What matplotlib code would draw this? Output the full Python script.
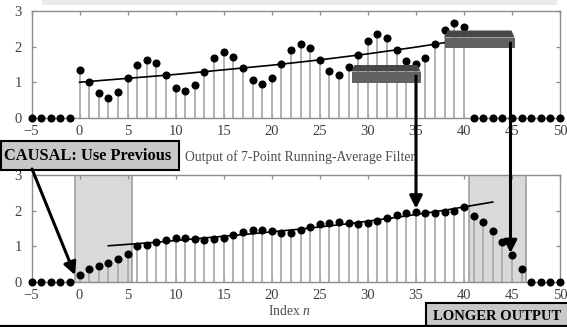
import matplotlib
matplotlib.use("Agg")
import matplotlib.pyplot as plt
from matplotlib.patches import Rectangle, Polygon, FancyArrowPatch
from matplotlib.lines import Line2D
from matplotlib.transforms import Affine2D

# ---------------- data ----------------
n_in = list(range(-5, 51))
x_vals = [0, 0, 0, 0, 0,
          1.34, 1.02, 0.69, 0.55, 0.73, 1.11, 1.48, 1.64, 1.53, 1.20,
          0.85, 0.74, 0.91, 1.30, 1.67, 1.84, 1.72, 1.39, 1.06, 0.96,
          1.13, 1.52, 1.90, 2.08, 1.96, 1.64, 1.32, 1.20, 1.42, 1.78,
          2.17, 2.35, 2.24, 1.92, 1.61, 1.52, 1.69, 2.09, 2.48, 2.67,
          2.57,
          0, 0, 0, 0, 0, 0, 0, 0, 0, 0]

n_out = list(range(-5, 51))
y_vals = [0, 0, 0, 0, 0,
          0.20, 0.35, 0.44, 0.52, 0.63, 0.78, 0.99, 1.04, 1.11, 1.18,
          1.24, 1.24, 1.19, 1.18, 1.19, 1.23, 1.31, 1.39, 1.44, 1.45,
          1.42, 1.37, 1.38, 1.45, 1.53, 1.61, 1.66, 1.67, 1.65, 1.62,
          1.65, 1.71, 1.78, 1.88, 1.94, 1.97, 1.94, 1.94, 1.95, 2.00,
          2.09, 1.86, 1.67, 1.42, 1.11, 0.75, 0.37,
          0, 0, 0, 0]

trend_in_n = [0, 5, 10, 15, 20, 25, 30, 35, 40]
trend_in_v = [1.00, 1.11, 1.22, 1.35, 1.48, 1.63, 1.80, 1.99, 2.20]
trend_out_n = [3, 8, 13, 18, 23, 28, 33, 38, 43]
trend_out_v = [1.01, 1.11, 1.23, 1.35, 1.48, 1.63, 1.81, 2.01, 2.24]

shade_regions = [(-0.5, 5.5), (40.5, 46.5)]
xticks = [-5, 0, 5, 10, 15, 20, 25, 30, 35, 40, 45, 50]
yticks = [0, 1, 2, 3]

title_bottom = "Output of 7-Point Running-Average Filter"
xlabel_bottom = "Index $n$"
label_causal = "CAUSAL: Use Previous"
label_longer = "LONGER OUTPUT"

# ---------------- style ----------------
plt.rcParams['font.family'] = ['Liberation Serif', 'DejaVu Serif']
plt.rcParams['mathtext.fontset'] = 'custom'
plt.rcParams['mathtext.it'] = 'Liberation Serif:italic'
plt.rcParams['mathtext.rm'] = 'Liberation Serif'

W, H = 567, 327
fig = plt.figure(figsize=(W / 100, H / 100), dpi=100)
pix = Affine2D().scale(1 / W, -1 / H).translate(0, 1) + fig.transFigure

SPINE = '#8c8c8c'
STEM = '#acacac'
TXT = '#404040'


def setup(ax):
    ax.set_xlim(-5, 50)
    ax.set_ylim(0, 3)
    ax.set_xticks(xticks)
    ax.set_yticks(yticks)
    for s in ax.spines.values():
        s.set_color(SPINE)
        s.set_linewidth(1.0)
    ax.tick_params(direction='in', length=3, width=0.9, color=SPINE,
                   top=True, right=True, labelsize=10.5, labelcolor=TXT)
    ax.tick_params(axis='x', pad=5)
    ax.tick_params(axis='y', pad=7)


def stems(ax, n, v):
    ml, sl, bl = ax.stem(n, v)
    sl.set_color(STEM)
    sl.set_linewidth(1.3)
    ml.set_color('black')
    ml.set_markersize(4.8)
    ml.set_clip_on(False)
    ml.set_zorder(4)
    bl.set_visible(False)


ax1 = fig.add_axes([31.5 / W, 1 - 117.7 / H, 528.5 / W, 106.4 / H])
setup(ax1)
stems(ax1, n_in, x_vals)
ax1.plot(trend_in_n, trend_in_v, color='black', lw=1.2, zorder=3)

ax2 = fig.add_axes([31.5 / W, 1 - 281.7 / H, 528.5 / W, 106.7 / H])
setup(ax2)
for a, b in shade_regions:
    ax2.axvspan(a, b, facecolor='#d9d9d9', edgecolor='none', zorder=0)
    ax2.axvline(a, color='#9a9a9a', lw=1.1, zorder=0.5)
    ax2.axvline(b, color='#9a9a9a', lw=1.1, zorder=0.5)
stems(ax2, n_out, y_vals)
ax2.plot(trend_out_n, trend_out_v, color='black', lw=1.2, zorder=3)

# top light bar
fig.add_artist(Rectangle((41.7, -2), 515.3, 6.7, transform=pix,
                         facecolor='#ebebeb', edgecolor='none', zorder=1))

# bottom title and label
fig.text(300 / W, 1 - 157 / H, title_bottom, ha='center', va='center',
         fontsize=9.8, color='#4d4d4d')
fig.text(289 / W, 1 - 311 / H, xlabel_bottom, ha='center', va='center',
         fontsize=9.8, color='#4d4d4d')


def dark_box(x0, x1, ytop, ystrip, ybot):
    fig.add_artist(Rectangle((x0, ystrip), x1 - x0, ybot - ystrip, transform=pix,
                             facecolor='#626262', edgecolor='none', zorder=5))
    fig.add_artist(Polygon([(x0, ystrip), (x0 + 3, ytop), (x1 - 3, ytop), (x1, ystrip)],
                           closed=True, transform=pix,
                           facecolor='#474747', edgecolor='none', zorder=5))


dark_box(351.5, 420.5, 65, 71.5, 82.5)
dark_box(444.5, 514.5, 30.5, 37.5, 47.5)


def arrow(p0, p1):
    fig.add_artist(FancyArrowPatch(p0, p1, transform=pix,
                                   arrowstyle='-|>,head_length=0.75,head_width=0.38',
                                   mutation_scale=10, lw=2.2, color='black',
                                   shrinkA=0, shrinkB=0, zorder=7))


# label boxes
fig.add_artist(Rectangle((1, 141), 178, 28.5, transform=pix,
                         facecolor='#c8c8c8', edgecolor='black', lw=1.5, zorder=6))
fig.text(4 / W, 1 - 156 / H, label_causal, ha='left', va='center',
         fontsize=11.8, fontweight='bold', color='black', zorder=8)

fig.add_artist(Rectangle((425.5, 302.5), 160, 40, transform=pix,
                         facecolor='#c8c8c8', edgecolor='black', lw=1.5, zorder=6))
fig.text(433 / W, 1 - 317 / H, label_longer, ha='left', va='center',
         fontsize=10.5, fontweight='bold', color='black', zorder=8)

arrow((32, 169), (75, 275))
arrow((416, 76), (416, 208.5))
arrow((510.5, 43), (510.5, 253))

# bottom border line
fig.add_artist(Line2D([0, W], [325.5, 325.5], transform=pix, color='black',
                      lw=1.6, zorder=9))

fig.savefig('out.png', dpi=100)
